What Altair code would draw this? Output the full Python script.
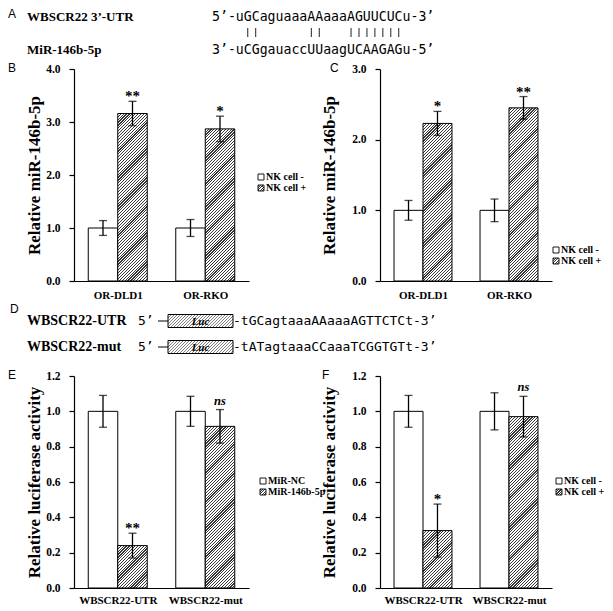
import altair as alt
import pandas as pd

SERIF = "Liberation Serif"
SANS = "Liberation Sans"
MONO = "DejaVu Sans Mono"

# ---------------- data ----------------
panel_letters = ["A", "B", "C", "D", "E", "F"]

a_labels = ["WBSCR22 3’-UTR", "MiR-146b-5p"]
a_seq_top = "5’-uGCaguaaaAAaaaAGUUCUCu-3’"
a_seq_bottom = "3’-uCGgauaccUUaagUCAAGAGu-5’"
a_pairs = "    ||      ||   |||||||"

d_labels = ["WBSCR22-UTR", "WBSCR22-mut"]
d_five = "5’"
d_box = "Luc"
d_seqs = ["-tGCagtaaaAAaaaAGTTCTCt-3’", "-tATagtaaaCCaaaTCGGTGTt-3’"]

series_nk = ["NK cell -", "NK cell +"]
series_mir = ["MiR-NC", "MiR-146b-5p"]

b_groups = ["OR-DLD1", "OR-RKO"]
b_values = [[1.00, 3.16], [1.00, 2.87]]
b_errors = [[0.14, 0.23], [0.16, 0.24]]
b_sig = ["**", "*"]

c_groups = ["OR-DLD1", "OR-RKO"]
c_values = [[1.00, 2.23], [1.00, 2.45]]
c_errors = [[0.14, 0.17], [0.16, 0.16]]
c_sig = ["*", "**"]

e_groups = ["WBSCR22-UTR", "WBSCR22-mut"]
e_values = [[1.00, 0.24], [1.00, 0.915]]
e_errors = [[0.09, 0.07], [0.085, 0.095]]
e_sig = ["**", "ns"]

f_groups = ["WBSCR22-UTR", "WBSCR22-mut"]
f_values = [[1.00, 0.325], [1.00, 0.97]]
f_errors = [[0.09, 0.15], [0.105, 0.115]]
f_sig = ["*", "ns"]

# ---------------- layout ----------------
W0, W1 = 175, 172
H = 212
HA = 60
HD = 95
COLSP = 131
GW = 0.674          # width of a bar pair, in category steps


def hatch(w, h, period=2.9, frac=0.4, dark="#383838", light="#ffffff"):
    n = max(1, int(round((w + h) / period)))
    stops = []
    for i in range(n):
        a = i / n
        b = (i + frac) / n
        c = (i + 1) / n
        stops += [{"offset": a, "color": dark}, {"offset": b, "color": dark},
                  {"offset": b, "color": light}, {"offset": c, "color": light}]
    k = (w + h) / (w * w + h * h)
    return {"gradient": "linear", "x1": 0, "y1": 0, "x2": k * w, "y2": k * h,
            "stops": stops}


def label(text, x, y, **kw):
    opts = dict(color="black")
    opts.update(kw)
    return alt.Chart(pd.DataFrame({"t": [text]})).mark_text(**opts).encode(
        text="t:N", x=alt.value(x), y=alt.value(y))


def legend(labels, x, ys):
    layers = []
    for i, lab in enumerate(labels):
        y = ys[i]
        fill = "white" if i == 0 else hatch(6, 6, period=2.4, frac=0.5)
        layers.append(
            alt.Chart(pd.DataFrame({"t": [lab]})).mark_rect(
                fill=fill, stroke="black", strokeWidth=0.9).encode(
                x=alt.value(x), x2=alt.value(x + 6),
                y=alt.value(y - 3), y2=alt.value(y + 3)))
        layers.append(label(lab, x + 8, y, align="left", baseline="middle",
                            font=SERIF, fontWeight="bold", fontSize=10))
    return layers


def bar_panel(groups, series, values, errors, sig, ymax, yvals, ytitle, W,
              title_pad, leg_x, leg_ys, letter, letter_x, xlab_pad):
    rows = []
    for gi, g in enumerate(groups):
        for si, s in enumerate(series):
            v = values[gi][si]
            e = errors[gi][si]
            xl = gi - GW / 2 + si * GW / 2
            rows.append({"group": g, "series": s, "value": v, "lo": v - e,
                         "hi": v + e, "sig": sig[gi] if si == 1 else "",
                         "xl": xl, "xr": xl + GW / 2, "xc": xl + GW / 4})
    df = pd.DataFrame(rows)

    bw = W / 2 * GW / 2   # width of one bar in px
    lab_expr = "[" + ",".join("'%s'" % g for g in groups) + "][datum.value]"
    xaxis = alt.Axis(title=None, values=list(range(len(groups))),
                     labelExpr=lab_expr, labelAngle=0, ticks=False, grid=False,
                     domainColor="black", domainWidth=1.2, labelFont=SERIF,
                     labelFontWeight="bold", labelFontSize=11,
                     labelColor="black", labelPadding=xlab_pad, labelFlush=False)
    yaxis = alt.Axis(title=ytitle, values=yvals, format=".1f", grid=False,
                     domainColor="black", domainWidth=1.2, tickColor="black",
                     tickWidth=1.2, tickSize=5, labelFont=SERIF,
                     labelFontWeight="bold", labelFontSize=11.5,
                     labelColor="black", labelPadding=9, titleFont=SERIF,
                     titleFontWeight="bold", titleFontSize=17,
                     titleColor="black", titlePadding=title_pad)
    xsc = alt.Scale(domain=[-0.5, len(groups) - 0.5], nice=False, zero=False)
    ysc = alt.Scale(domain=[0, ymax], nice=False, zero=True)

    def xq(f):
        return alt.X(f + ":Q", scale=xsc, axis=xaxis)

    def yq(f):
        return alt.Y(f + ":Q", scale=ysc, axis=yaxis)

    base = alt.Chart(df)
    layers = [base.transform_filter(alt.datum.series == series[0]).mark_bar(
        fill="white", stroke="black", strokeWidth=1).encode(
        x=xq("xl"), x2="xr:Q", y=yq("value"), y2=alt.datum(0))]
    for gi, g in enumerate(groups):
        hp = values[gi][1] / ymax * H
        layers.append(base.transform_filter(
            (alt.datum.series == series[1]) & (alt.datum.group == g)).mark_bar(
            fill=hatch(bw, hp), stroke="black", strokeWidth=1).encode(
            x=xq("xl"), x2="xr:Q", y=yq("value"), y2=alt.datum(0)))
    layers.append(base.mark_rule(color="black", strokeWidth=1.3).encode(
        x=xq("xc"), y=yq("lo"), y2="hi:Q"))
    for f in ["lo", "hi"]:
        layers.append(base.mark_tick(orient="horizontal", size=8, thickness=1.3,
                                     color="black").encode(x=xq("xc"), y=yq(f)))
    layers.append(base.transform_filter(
        (alt.datum.sig != "") & (alt.datum.sig != "ns")).mark_text(
        font=SERIF, fontWeight="bold", fontSize=15, baseline="alphabetic",
        dy=0, color="black").encode(x=xq("xc"), y=yq("hi"), text="sig:N"))
    layers.append(base.transform_filter(alt.datum.sig == "ns").mark_text(
        font=SERIF, fontWeight="bold", fontStyle="italic", fontSize=12.5,
        baseline="alphabetic", dy=-5, color="black").encode(
        x=xq("xc"), y=yq("hi"), text="sig:N"))
    layers += legend(series, leg_x, leg_ys)
    layers.append(label(letter, letter_x, -1, align="left", baseline="middle",
                        font=SANS, fontSize=12))
    return alt.layer(*layers).properties(width=W, height=H)


# ---------------- panel A ----------------
SEQ_X = 138
SEQ_FS = 13.2
CHW = 0.602 * SEQ_FS          # advance of one monospace character
pair_x = [SEQ_X + (i + 0.5) * CHW for i, ch in enumerate(a_pairs) if ch == "|"]

a_layers = [
    label(panel_letters[0], -66, 0, align="left", baseline="top", font=SANS,
          fontSize=12),
    label(a_labels[0], -47, 8, align="left", baseline="middle", font=SERIF,
          fontWeight="bold", fontSize=13),
    label(a_labels[1], -47, 41, align="left", baseline="middle", font=SERIF,
          fontWeight="bold", fontSize=13),
    label(a_seq_top, SEQ_X, 8, align="left", baseline="middle", font=MONO,
          fontSize=SEQ_FS),
    label(a_seq_bottom, SEQ_X, 41, align="left", baseline="middle", font=MONO,
          fontSize=SEQ_FS),
    alt.Chart(pd.DataFrame({"px": pair_x})).mark_rule(
        color="#222222", strokeWidth=1).encode(
        x=alt.X("px:Q", scale=alt.Scale(domain=[0, W0], range=[0, W0]),
                axis=None),
        y=alt.value(19), y2=alt.value(28)),
]
rowA = alt.layer(*a_layers).properties(width=W0, height=HA)

# ---------------- panel D ----------------
d_layers = [label(panel_letters[3], -64, 28, align="left", baseline="middle",
                  font=SANS, fontSize=12)]
for i, yc in enumerate([40, 66]):
    d_layers += [
        label(d_labels[i], -47, yc, align="left", baseline="middle",
              font=SERIF, fontWeight="bold", fontSize=14),
        label(d_five, 64, yc, align="left", baseline="middle", font=MONO,
              fontSize=13),
        alt.Chart(pd.DataFrame({"t": [d_box]})).mark_rule(
            color="black", strokeWidth=1).encode(
            x=alt.value(84), x2=alt.value(94), y=alt.value(yc)),
        alt.Chart(pd.DataFrame({"t": [d_box]})).mark_rect(
            fill=hatch(65, 13, period=3.0, frac=0.35, dark="#808080"),
            stroke="black", strokeWidth=1).encode(
            x=alt.value(94), x2=alt.value(159),
            y=alt.value(yc - 6.5), y2=alt.value(yc + 6.5)),
        label(d_box, 126.5, yc + 0.5, align="center", baseline="middle",
              font=SERIF, fontStyle="italic", fontWeight="bold", fontSize=11),
        label(d_seqs[i], 159, yc, align="left", baseline="middle", font=MONO,
              fontSize=13),
    ]
rowD = alt.layer(*d_layers).properties(width=W0, height=HD)


def blank(w, h):
    return alt.Chart(pd.DataFrame({"t": [""]})).mark_text().encode(
        text="t:N").properties(width=w, height=h)


pB = bar_panel(b_groups, series_nk, b_values, b_errors, b_sig, 4.0,
               [0, 1, 2, 3, 4], "Relative miR-146b-5p", W0, 2, 184, [108, 119],
               panel_letters[1], -66, 8)
pC = bar_panel(c_groups, series_nk, c_values, c_errors, c_sig, 3.0,
               [0, 1, 2, 3], "Relative miR-146b-5p", W1, 13, 173, [181, 192],
               panel_letters[2], -50, 8)
pE = bar_panel(e_groups, series_mir, e_values, e_errors, e_sig, 1.2,
               [0, 0.2, 0.4, 0.6, 0.8, 1.0, 1.2], "Relative luciferase activity",
               W0, 2, 186, [105, 116], panel_letters[4], -66, 6)
pF = bar_panel(f_groups, series_nk, f_values, f_errors, f_sig, 1.2,
               [0, 0.2, 0.4, 0.6, 0.8, 1.0, 1.2], "Relative luciferase activity",
               W1, 13, 176, [105, 116], panel_letters[5], -58, 6)

chart = alt.concat(
    rowA, blank(W1, HA), pB, pC, rowD, blank(W1, HD), pE, pF,
    columns=2, spacing={"row": 0, "column": COLSP}, bounds="flush",
    align="each",
).properties(padding=0, background="white").configure_view(stroke=None)

chart.save("out.html", embed_options={"renderer": "svg", "actions": False})
